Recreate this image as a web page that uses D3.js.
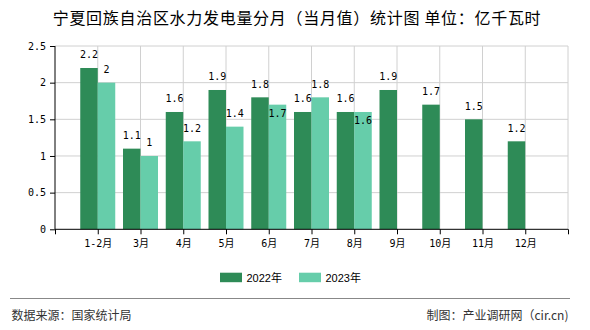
<!DOCTYPE html>
<html><head><meta charset="utf-8">
<script src="https://cdn.jsdelivr.net/npm/d3@7"></script>
<style>body{margin:0;background:#fff}svg{display:block}</style>
</head><body><svg id="c" width="590" height="330"></svg>
<script>
const categories = ["1-2月","3月","4月","5月","6月","7月","8月","9月","10月","11月","12月"];
const series = ["2022年","2023年"];
const values2022 = [2.2,1.1,1.6,1.9,1.8,1.6,1.6,1.9,1.7,1.5,1.2];
const values2023 = [2,1,1.2,1.4,1.7,1.8,1.6,null,null,null,null];
const yTicks = [0,0.5,1,1.5,2,2.5];
const colors = ["#2e8b57","#66cdaa"];
const title = "宁夏回族自治区水力发电量分月（当月值）统计图 单位：亿千瓦时";
const sourceText = "数据来源：国家统计局";
const creditText = "制图：产业调研网（cir.cn)";

const svg = d3.select("#c");
const L=55, R=568, T=46, B=229.3;
const mono = "'DejaVu Sans Mono','Noto Sans CJK SC',monospace";
const cjk = "'Noto Sans CJK SC','Noto Sans',sans-serif";

const x = d3.scalePoint().domain(["__s", ...categories, "__e"]).range([L,R]);
const y = d3.scaleLinear().domain([0,2.5]).range([B,T]);
const xs = d3.scaleBand().domain(series).range([-17.5,17.5]);

// title
svg.append("text").attr("x",297).attr("y",24).attr("text-anchor","middle")
  .style("font-family",cjk).style("font-size","16px").style("letter-spacing","0.7px")
  .attr("fill","#000").text(title);

// grid
const g = svg.append("g");
g.selectAll("line.h").data(yTicks.filter(d=>d>0)).join("line")
  .attr("x1",L).attr("x2",R).attr("y1",d=>y(d)).attr("y2",d=>y(d))
  .attr("stroke","#d0d0d0").attr("stroke-width",1);
g.selectAll("line.v").data(x.domain().slice(1)).join("line")
  .attr("x1",d=>x(d)).attr("x2",d=>x(d)).attr("y1",T).attr("y2",B)
  .attr("stroke","#d0d0d0").attr("stroke-width",1);

// bars
const data = [values2022, values2023];
data.forEach((vals,si)=>{
  svg.append("g").selectAll("rect").data(categories.map((c,i)=>({c,v:vals[i]})).filter(d=>d.v!=null))
    .join("rect")
    .attr("x",d=>x(d.c)+xs(series[si]))
    .attr("width",xs.bandwidth())
    .attr("y",d=>y(d.v))
    .attr("height",d=>B-y(d.v))
    .attr("fill",colors[si]);
});

// labels (second series label moves inside its bar when it collides with the first)
const lab = svg.append("g").style("font-family",mono).style("font-size","10px").attr("fill","#000").attr("text-anchor","middle");
categories.forEach((c,i)=>{
  const a = values2022[i], b = values2023[i];
  const xa = x(c)+xs(series[0])+xs.bandwidth()/2;
  const ya = y(a)-9.5;
  const ta = lab.append("text").attr("x",xa).attr("y",ya).text(a);
  if(b!=null){
    const xb = x(c)+xs(series[1])+xs.bandwidth()/2;
    let yb = y(b)-9.5;
    const tb = lab.append("text").attr("x",xb).attr("y",yb).text(b);
    const wa = ta.node().getComputedTextLength(), wb = tb.node().getComputedTextLength();
    const hOverlap = (wa+wb)/2 > (xb-xa);
    if(hOverlap && Math.abs(yb-ya)<12) tb.attr("y", y(b)+12);
  }
});

// axes
const yAxis = svg.append("g").attr("transform",`translate(${L},0)`)
  .call(d3.axisLeft(y).tickValues(yTicks).tickSize(5).tickPadding(4).tickFormat(d=>String(d)));
yAxis.select(".domain").attr("d",`M0,${T}V${B}`).attr("stroke","#000");
yAxis.selectAll("text").style("font-family",mono).style("font-size","10px").attr("fill","#000");

const xAxis = svg.append("g").attr("transform",`translate(0,${B})`)
  .call(d3.axisBottom(x).tickSize(5).tickPadding(6).tickFormat(d=>d.startsWith("__")?"":d));
xAxis.select(".domain").attr("d",`M${L},0H${R}`).attr("stroke","#000");
xAxis.selectAll("text").style("font-family",mono).style("font-size","10px").attr("fill","#000");

// legend
const lg = svg.append("g");
const lx = [220,299];
series.forEach((s,i)=>{
  lg.append("rect").attr("x",lx[i]).attr("y",272.7).attr("width",22).attr("height",9.5).attr("fill",colors[i]);
  lg.append("text").attr("x",lx[i]+26.5).attr("y",281.5).style("font-family","'Liberation Sans',Arial,'Noto Sans CJK SC',sans-serif")
    .style("font-size","11px").attr("fill","#000").text(s);
});

// footer
svg.append("line").attr("x1",10).attr("x2",570).attr("y1",298.5).attr("y2",298.5).attr("stroke","#888").attr("stroke-width",1.2);
svg.append("text").attr("x",11.5).attr("y",320).style("font-family",cjk).style("font-size","12px").attr("fill","#333").text(sourceText);
svg.append("text").attr("x",568.5).attr("y",320).attr("text-anchor","end").style("font-family",cjk).style("font-size","12px").attr("fill","#333").text(creditText);
</script></body></html>
